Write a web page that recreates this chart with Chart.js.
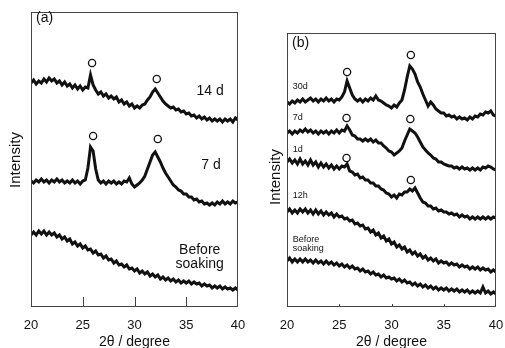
<!DOCTYPE html>
<html>
<head>
<meta charset="utf-8">
<script src="https://cdn.jsdelivr.net/npm/chart.js@4.4.0/dist/chart.umd.min.js"></script>
<style>
  html, body { margin: 0; padding: 0; background: #fff; }
  #wrap { position: relative; width: 505px; height: 348px; }
  canvas { position: absolute; top: 0; }
  #chart-a { left: 0; }
  #chart-b { left: 252px; }
</style>
</head>
<body>
<div id="wrap">
  <canvas id="chart-a" width="252" height="348"></canvas>
  <canvas id="chart-b" width="253" height="348"></canvas>
</div>
<script>
// 2θ scan grid (degree), shared by every pattern
const angles = [
  20, 20.25, 20.5, 20.75, 21, 21.25, 21.5, 21.75, 22, 22.25, 22.5, 22.75,
  23, 23.25, 23.5, 23.75, 24, 24.25, 24.5, 24.75, 25, 25.25, 25.5, 25.75,
  26, 26.25, 26.5, 26.75, 27, 27.25, 27.5, 27.75, 28, 28.25, 28.5, 28.75,
  29, 29.25, 29.5, 29.75, 30, 30.25, 30.5, 30.75, 31, 31.25, 31.5, 31.75,
  32, 32.25, 32.5, 32.75, 33, 33.25, 33.5, 33.75, 34, 34.25, 34.5, 34.75,
  35, 35.25, 35.5, 35.75, 36, 36.25, 36.5, 36.75, 37, 37.25, 37.5, 37.75,
  38, 38.25, 38.5, 38.75, 39, 39.25, 39.5, 39.75, 40
];
const xTicks = [20, 25, 30, 35, 40];

// --- panel (a) : intensities (arb. units, offset stacked) ---
const a14d = [
  224, 227, 223, 226, 224, 228, 225, 229, 226, 228, 224, 226,
  222, 225, 221, 223, 219, 222, 218, 221, 217, 220, 219, 232,
  222, 217, 213, 215, 211, 213, 209, 211, 208, 210, 205, 207,
  203, 205, 201, 203, 199, 201, 199, 202, 203, 207, 210, 215,
  218, 214, 210, 206, 203, 201, 199, 200, 197, 198, 195, 196,
  193, 194, 191, 192, 189, 191, 188, 190, 187, 189, 186, 188,
  186, 188, 185, 188, 186, 188, 185, 189, 187
];
const a7d = [
  126, 124, 127, 125, 128, 125, 127, 124, 127, 125, 128, 125,
  127, 124, 126, 124, 127, 124, 126, 123, 126, 127, 139, 160,
  156, 138, 127, 124, 126, 123, 126, 124, 126, 123, 125, 123,
  126, 125, 129, 123, 120, 122, 124, 127, 131, 138, 145, 152,
  155, 150, 145, 139, 134, 130, 126, 122, 120, 117, 116, 113,
  113, 110, 110, 107, 108, 105, 106, 103, 104, 102, 104, 102,
  105, 103, 106, 103, 105, 103, 106, 104, 105
];
const aBefore = [
  72, 75, 72, 76, 73, 76, 72, 75, 72, 74, 70, 72,
  68, 70, 66, 68, 63, 65, 61, 63, 59, 61, 57, 58,
  54, 56, 52, 53, 49, 51, 47, 48, 44, 46, 42, 43,
  40, 42, 38, 39, 36, 38, 34, 36, 33, 35, 31, 33,
  30, 32, 28, 30, 27, 29, 26, 28, 25, 27, 24, 26,
  24, 26, 23, 25, 23, 24, 21, 23, 21, 22, 19, 21,
  19, 21, 18, 20, 18, 19, 17, 19, 17
];
const aMarkX = [25.9, 32.15, 26.0, 32.25];
const aMarkY = [244, 228, 171, 168];
const aLabels = ['14 d', '7 d', 'Before', 'soaking'];
const aLabelX = [37.3, 37.4, 36.3, 36.3];
const aLabelY = [216, 142, 57, 43];

// --- panel (b) ---
const b30d = [
  205, 203, 206, 204, 207, 205, 208, 205, 207, 209, 206, 208,
  205, 208, 206, 209, 206, 208, 205, 208, 207, 210, 215, 226,
  219, 212, 208, 206, 208, 205, 208, 206, 209, 207, 211, 207,
  206, 204, 202, 201, 199, 202, 200, 204, 207, 217, 230, 241,
  238, 233, 225, 220, 213, 207, 201, 205, 202, 198, 196, 194,
  194, 191, 192, 190, 191, 188, 190, 188, 189, 187, 190, 188,
  191, 190, 193, 192, 195, 194, 196, 192, 191
];
const b7d = [
  174, 176, 173, 176, 174, 177, 175, 178, 175, 177, 174, 176,
  173, 176, 174, 176, 173, 176, 174, 177, 174, 177, 176, 181,
  177, 172, 171, 168, 168, 166, 168, 166, 168, 165, 167, 164,
  164, 161, 159, 156, 155, 152, 154, 156, 159, 166, 172, 178,
  176, 174, 170, 165, 160, 157, 154, 152, 149, 148, 145, 145,
  143, 142, 141, 141, 139, 140, 138, 140, 138, 139, 137, 139,
  137, 139, 137, 140, 139, 141, 140, 138, 137
];
const b1d = [
  145, 148, 144, 147, 143, 148, 143, 146, 142, 147, 142, 145,
  140, 144, 140, 143, 139, 142, 138, 141, 138, 141, 140, 143,
  136, 135, 132, 133, 129, 130, 127, 127, 124, 124, 121, 121,
  118, 117, 114, 113, 110, 112, 109, 113, 112, 115, 115, 118,
  116, 119, 114, 109, 105, 104, 101, 101, 98, 99, 96, 97,
  95, 95, 93, 94, 92, 93, 90, 92, 90, 91, 88, 90,
  88, 90, 88, 90, 88, 90, 88, 90, 89
];
const b12h = [
  95, 98, 94, 97, 94, 98, 95, 98, 94, 97, 93, 97,
  93, 96, 92, 95, 92, 94, 90, 93, 90, 91, 88, 89,
  86, 87, 83, 84, 81, 82, 78, 79, 75, 77, 72, 74,
  69, 71, 66, 68, 63, 65, 60, 62, 58, 60, 55, 57,
  53, 55, 51, 53, 49, 51, 47, 49, 46, 48, 44, 46,
  44, 45, 42, 44, 42, 43, 40, 42, 40, 41, 38, 40,
  38, 40, 37, 39, 37, 38, 35, 37, 35
];
const bBefore = [
  46, 49, 45, 48, 45, 48, 45, 48, 45, 47, 44, 47,
  44, 46, 43, 46, 43, 45, 42, 44, 41, 43, 40, 42,
  39, 41, 38, 39, 36, 38, 35, 36, 33, 35, 32, 33,
  30, 32, 29, 30, 28, 29, 26, 28, 25, 27, 24, 25,
  22, 24, 21, 23, 20, 22, 19, 21, 18, 20, 17, 19,
  17, 19, 16, 18, 16, 18, 15, 17, 15, 17, 14, 16,
  14, 16, 14, 20, 14, 16, 13, 15, 13
];
const bMarkX = [25.75, 31.85, 25.7, 31.8, 25.7, 31.85];
const bMarkY = [235, 252, 189, 188, 149, 127];
const bLabels = ['30d', '7d', '1d', '12h', 'Before', 'soaking'];
const bLabelX = [20.55, 20.55, 20.55, 20.55, 20.55, 20.55];
const bLabelY = [220, 189, 157, 111, 67, 58];

const FONT = '"Liberation Sans", Arial, Helvetica, sans-serif';

// frame, inward ticks, curve labels, panel tag, y title
const decor = {
  id: 'decor',
  afterDraw(chart, args, o) {
    const { ctx, chartArea: ca, scales: { x, y } } = chart;
    ctx.save();
    ctx.strokeStyle = '#444';
    ctx.lineWidth = 1;
    ctx.strokeRect(ca.left + 0.5, ca.top + 0.5, ca.right - ca.left - 1, ca.bottom - ca.top - 1);
    o.innerTicks.forEach(t => {
      const px = Math.round(x.getPixelForValue(t)) + 0.5;
      ctx.beginPath();
      ctx.moveTo(px, ca.bottom);
      ctx.lineTo(px, ca.bottom - o.tickLen);
      ctx.stroke();
    });
    ctx.fillStyle = '#111';
    ctx.font = o.labelFont;
    ctx.textAlign = o.labelAlign;
    ctx.textBaseline = 'middle';
    o.labels.forEach((s, i) => {
      ctx.fillText(s, x.getPixelForValue(o.labelX[i]), y.getPixelForValue(o.labelY[i]));
    });
    ctx.font = '14px ' + FONT;
    ctx.textAlign = 'left';
    ctx.fillText(o.tag, ca.left + 5, ca.top + o.tagDy);
    ctx.font = '15px ' + FONT;
    ctx.translate(o.yTitleX, o.yTitleY);
    ctx.rotate(-Math.PI / 2);
    ctx.textAlign = 'center';
    ctx.fillText('Intensity', 0, 0);
    ctx.restore();
  }
};

function series(vals) {
  return {
    data: angles.map((a, i) => ({ x: a, y: vals[i] })),
    borderColor: '#111',
    borderWidth: 3,
    pointRadius: 0,
    tension: 0,
    order: 1
  };
}

function marks(xs, ys) {
  return {
    data: xs.map((a, i) => ({ x: a, y: ys[i] })),
    showLine: false,
    pointRadius: 3.6,
    pointBackgroundColor: '#fff',
    pointBorderColor: '#111',
    pointBorderWidth: 1.3,
    order: 0
  };
}

function makePanel(id, sets, cfg) {
  return new Chart(document.getElementById(id), {
    type: 'line',
    data: { datasets: sets },
    plugins: [decor],
    options: {
      responsive: false,
      animation: false,
      devicePixelRatio: 1,
      layout: { padding: { left: 0, top: cfg.top, right: cfg.right, bottom: 0 } },
      plugins: {
        legend: { display: false },
        tooltip: { enabled: false },
        decor: cfg.decor
      },
      scales: {
        x: {
          type: 'linear',
          min: 20, max: 40,
          afterBuildTicks: s => { s.ticks = xTicks.map(v => ({ value: v })); },
          // label offset comes from tickLength so the side padding stays small
          ticks: { color: '#111', font: { family: FONT, size: 13 }, padding: 0, maxRotation: 0 },
          grid: { display: false, drawTicks: true, tickLength: 11 },
          border: { display: false },
          title: { display: true, text: '2θ / degree', color: '#111', font: { family: FONT, size: 14 }, padding: { top: 0, bottom: -3 } },
          afterFit: s => { s.height = 41; }
        },
        y: {
          min: 0, max: cfg.ymax,
          ticks: { display: false },
          grid: { display: false, drawTicks: false },
          border: { display: false },
          afterFit: s => { s.width = cfg.yw; }
        }
      }
    }
  });
}

makePanel('chart-a', [
  marks(aMarkX, aMarkY),
  series(a14d), series(a7d), series(aBefore)
], {
  top: 12, right: 14, yw: 31, ymax: 295,
  decor: {
    innerTicks: [25, 30, 35], tickLen: 10,
    labels: aLabels, labelX: aLabelX, labelY: aLabelY,
    labelFont: '14px ' + FONT, labelAlign: 'center',
    tag: '(a)', tagDy: 6,
    yTitleX: 16, yTitleY: 160
  }
});

makePanel('chart-b', [
  marks(bMarkX, bMarkY),
  series(b30d), series(b7d), series(b1d), series(b12h), series(bBefore)
], {
  top: 33, right: 9, yw: 35, ymax: 274,
  decor: {
    innerTicks: [25, 30, 35], tickLen: 3,
    labels: bLabels, labelX: bLabelX, labelY: bLabelY,
    labelFont: '9px ' + FONT, labelAlign: 'left',
    tag: '(b)', tagDy: 10,
    yTitleX: 24, yTitleY: 177
  }
});
</script>
</body>
</html>
